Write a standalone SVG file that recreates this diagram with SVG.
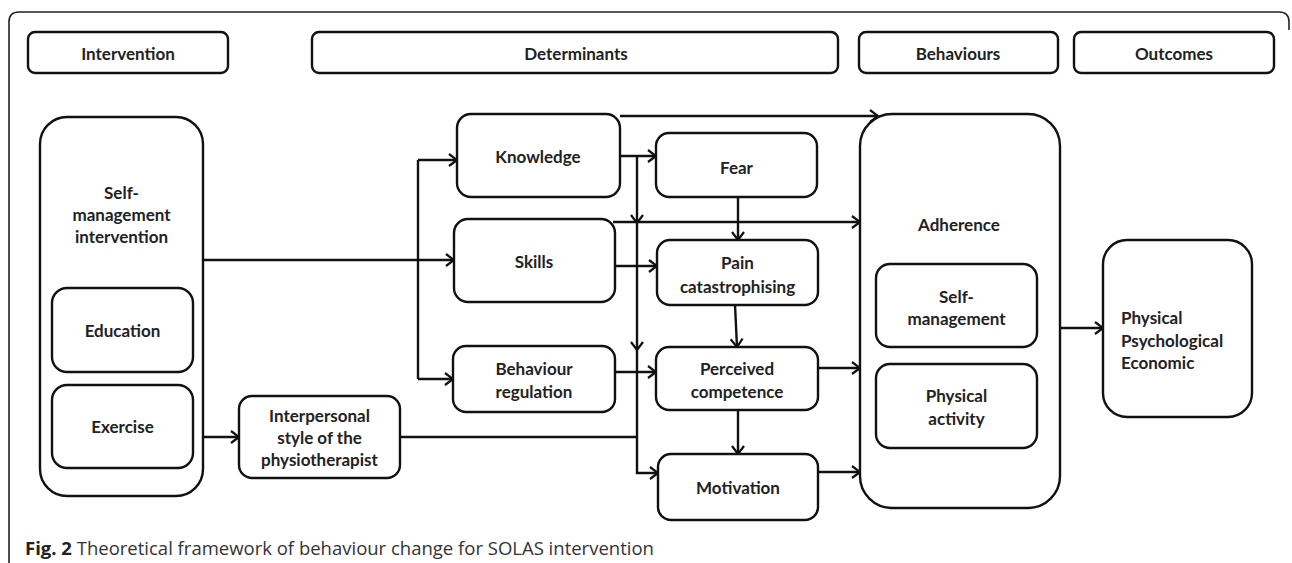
<svg xmlns="http://www.w3.org/2000/svg" width="1292" height="563" viewBox="0 0 1292 563">
<style>
.box{fill:#fff;stroke:#111;stroke-width:2.4}
.t{font-family:Lato,"Open Sans",sans-serif;font-weight:700;font-size:17px;fill:#222;text-anchor:middle}
.tl{font-family:Lato,"Open Sans",sans-serif;font-weight:700;font-size:17px;fill:#222}
.ln{fill:none;stroke:#111;stroke-width:2.4}
.ar{fill:none;stroke:#111;stroke-width:2.4;marker-end:url(#arr)}
.cap{font-family:"Open Sans",sans-serif;font-size:18.5px;fill:#333}
</style>
<defs>
<marker id="arr" viewBox="0 0 10 14" markerWidth="10" markerHeight="14" markerUnits="userSpaceOnUse" refX="9" refY="7" orient="auto">
<path d="M1,1 L9,7 L1,13" fill="none" stroke="#111" stroke-width="2.2"/>
</marker>
</defs>
<rect width="1292" height="563" fill="#fff"/>
<path id="frame" d="M9,563 V22 Q9,12 19,12 H1279 Q1289,12 1289,22 V30" fill="none" stroke="#222" stroke-width="1.6"/>

<g id="h-intervention"><rect class="box" x="28" y="32" width="200" height="41" rx="7"/><text class="t" x="128" y="60">Intervention</text></g>
<g id="h-determinants"><rect class="box" x="312" y="32" width="526" height="41" rx="7"/><text class="t" x="576" y="60">Determinants</text></g>
<g id="h-behaviours"><rect class="box" x="859" y="32" width="199" height="41" rx="7"/><text class="t" x="958" y="60">Behaviours</text></g>
<g id="h-outcomes"><rect class="box" x="1074" y="32" width="200" height="41" rx="7"/><text class="t" x="1174" y="60">Outcomes</text></g>

<g id="connectors">
<path class="ln" d="M203,260 H418"/>
<path class="ln" d="M418,160 V379"/>
<path class="ar" d="M418,160 H457"/>
<path class="ar" d="M418,260 H454"/>
<path class="ar" d="M418,379 H453"/>
<path class="ar" d="M203,437 H239"/>
<path class="ln" d="M400,437 H637"/>
<path class="ar" d="M620,116 H878"/>
<path class="ar" d="M620,156 H656"/>
<path class="ar" d="M637,156 V223"/>
<path class="ar" d="M637,223 V350"/>
<path class="ar" d="M637,350 V473 H658"/>
<path class="ar" d="M613,222 H860"/>
<path class="ar" d="M615,266 H657"/>
<path class="ar" d="M615,372 H656"/>
<path class="ar" d="M738,197 V240"/>
<path class="ar" d="M735,305 L737,347"/>
<path class="ar" d="M738,410 V454"/>
<path class="ar" d="M818,368 H860"/>
<path class="ar" d="M818,472 H860"/>
<path class="ar" d="M1060,328 H1103"/>
</g>

<g id="self-management-intervention"><rect class="box" x="40" y="117" width="163" height="379" rx="27"/>
<text class="t" x="121.5" y="199">Self-</text><text class="t" x="121.5" y="221">management</text><text class="t" x="121.5" y="243">intervention</text></g>
<g id="education"><rect class="box" x="52" y="288" width="141" height="84" rx="15"/><text class="t" x="122.5" y="337">Education</text></g>
<g id="exercise"><rect class="box" x="52" y="385" width="141" height="83" rx="15"/><text class="t" x="122.5" y="433">Exercise</text></g>
<g id="interpersonal"><rect class="box" x="239" y="396" width="161" height="82" rx="13"/>
<text class="t" x="319.5" y="422">Interpersonal</text><text class="t" x="319.5" y="444">style of the</text><text class="t" x="319.5" y="466">physiotherapist</text></g>
<g id="knowledge"><rect class="box" x="457" y="114" width="163" height="83" rx="14"/><text class="t" x="538" y="163">Knowledge</text></g>
<g id="skills"><rect class="box" x="454" y="219" width="161" height="83" rx="14"/><text class="t" x="534" y="268">Skills</text></g>
<g id="behaviour-regulation"><rect class="box" x="453" y="346" width="162" height="66" rx="13"/>
<text class="t" x="534" y="375">Behaviour</text><text class="t" x="534" y="398">regulation</text></g>
<g id="fear"><rect class="box" x="656" y="133" width="161" height="64" rx="13"/><text class="t" x="736.5" y="174">Fear</text></g>
<g id="pain"><rect class="box" x="657" y="240" width="161" height="65" rx="13"/>
<text class="t" x="737.5" y="269">Pain</text><text class="t" x="737.5" y="293">catastrophising</text></g>
<g id="perceived"><rect class="box" x="656" y="347" width="162" height="63" rx="13"/>
<text class="t" x="737" y="375">Perceived</text><text class="t" x="737" y="398">competence</text></g>
<g id="motivation"><rect class="box" x="658" y="454" width="160" height="66" rx="13"/><text class="t" x="738" y="494">Motivation</text></g>
<g id="adherence"><rect class="box" x="860" y="114" width="200" height="394" rx="32"/><text class="t" x="959" y="231">Adherence</text></g>
<g id="self-management"><rect class="box" x="876" y="264" width="161" height="83" rx="14"/>
<text class="t" x="956.5" y="303">Self-</text><text class="t" x="956.5" y="325">management</text></g>
<g id="physical-activity"><rect class="box" x="876" y="364" width="161" height="84" rx="14"/>
<text class="t" x="956.5" y="402">Physical</text><text class="t" x="956.5" y="425">activity</text></g>
<g id="outcomes"><rect class="box" x="1103" y="240" width="149" height="177" rx="24"/>
<text class="tl" x="1121" y="324">Physical</text><text class="tl" x="1121" y="347">Psychological</text><text class="tl" x="1121" y="369">Economic</text></g>

<text class="cap" x="25" y="555"><tspan font-weight="700" fill="#222">Fig. 2</tspan> Theoretical framework of behaviour change for SOLAS intervention</text>
</svg>
